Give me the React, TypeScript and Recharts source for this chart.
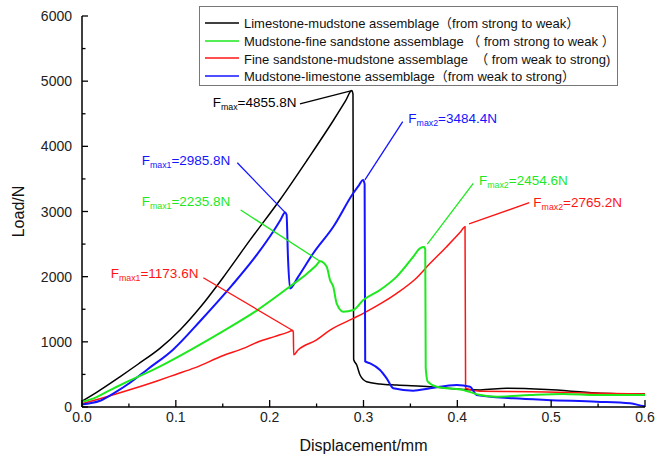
import React from 'react';
import { LineChart, Line, XAxis, YAxis, Legend, ReferenceLine, ReferenceDot } from 'recharts';

const FONT = "'Liberation Sans', Arial, 'Noto Sans CJK SC', sans-serif";

const seriesNames = [
  'Limestone-mudstone assemblage（from strong to weak）',
  'Mudstone-fine sandstone assemblage （ from strong to weak ）',
  'Fine sandstone-mudstone assemblage  （ from weak to strong)',
  'Mudstone-limestone assemblage（from weak to strong）',
];
const seriesColors = ['#000000', '#1ee81e', '#ff1414', '#1414ff'];

const xTicks = [0, 0.05, 0.1, 0.15, 0.2, 0.25, 0.3, 0.35, 0.4, 0.45, 0.5, 0.55, 0.6];
const yTicks = [0, 500, 1000, 1500, 2000, 2500, 3000, 3500, 4000, 4500, 5000, 5500, 6000];

// Limestone-mudstone (black)
const blackX = [0, 0.016, 0.04, 0.06, 0.083, 0.105, 0.126, 0.15, 0.179, 0.211, 0.24, 0.268, 0.281, 0.2875, 0.2888, 0.2895, 0.2928, 0.2963, 0.3034, 0.3176, 0.3354, 0.371, 0.4064, 0.4242, 0.4526, 0.4953, 0.5485, 0.6];
const blackY = [90, 230, 460, 660, 900, 1190, 1530, 1980, 2560, 3180, 3790, 4400, 4700, 4856, 4800, 730, 644, 491, 388, 353, 337, 312, 268, 262, 287, 268, 215, 198];

// Mudstone-fine sandstone (green)
const greenX = [0, 0.01, 0.03, 0.05, 0.08, 0.1187, 0.15, 0.1862, 0.2217, 0.24, 0.25, 0.2537, 0.2608, 0.2643, 0.2678, 0.2714, 0.2785, 0.2892, 0.2998, 0.3176, 0.3354, 0.3531, 0.3602, 0.3648, 0.3658, 0.3663, 0.3685, 0.378, 0.4064, 0.4242, 0.442, 0.4775, 0.513, 0.5485, 0.6];
const greenY = [80, 120, 260, 400, 600, 900, 1160, 1480, 1850, 2050, 2180, 2236, 2153, 1950, 1846, 1591, 1463, 1488, 1642, 1795, 2000, 2307, 2435, 2455, 2420, 600, 389, 312, 261, 184, 158, 184, 200, 184, 184];

// Fine sandstone-mudstone (red)
const redX = [0, 0.02, 0.05, 0.08, 0.1, 0.12, 0.1506, 0.172, 0.1862, 0.205, 0.219, 0.2245, 0.2252, 0.2256, 0.23, 0.25, 0.2643, 0.2892, 0.2998, 0.32, 0.3354, 0.355, 0.371, 0.3886, 0.403, 0.4082, 0.4088, 0.4242, 0.4775, 0.5485, 0.6];
const redY = [50, 130, 260, 400, 500, 600, 790, 900, 990, 1080, 1145, 1174, 1150, 800, 870, 1030, 1180, 1360, 1437, 1600, 1744, 1960, 2205, 2460, 2680, 2765, 287, 240, 235, 210, 198];

// Mudstone-limestone (blue)
const blueX = [0, 0.01, 0.02, 0.035, 0.05, 0.07, 0.097, 0.126, 0.16, 0.186, 0.205, 0.2115, 0.2164, 0.218, 0.2195, 0.2217, 0.23, 0.2465, 0.268, 0.289, 0.2955, 0.2995, 0.3012, 0.3018, 0.3069, 0.3176, 0.3247, 0.3318, 0.353, 0.371, 0.3993, 0.4135, 0.4206, 0.4597, 0.4953, 0.5485, 0.584, 0.598, 0.6];
const blueY = [40, 60, 100, 220, 360, 580, 880, 1320, 1870, 2330, 2720, 2870, 2986, 2950, 2300, 1820, 1990, 2360, 2770, 3280, 3410, 3484, 3420, 700, 670, 568, 440, 287, 250, 287, 338, 312, 184, 133, 107, 82, 56, 15, 10];

const toPoints = (xs: number[], ys: number[]) => xs.map((x, i) => ({ x, y: ys[i] }));
const blackData = toPoints(blackX, blackY);
const greenData = toPoints(greenX, greenY);
const redData = toPoints(redX, redY);
const blueData = toPoints(blueX, blueY);

// Annotations: label anchors (text start, vertical centre) and leader lines, in data units
const annLabelX = [0.1393, 0.0636, 0.0636, 0.0306, 0.3478, 0.4231, 0.481];
const annLabelY = [4670, 3790, 3150, 2056, 4435, 3483, 3135];
const annSub = ['max', 'max1', 'max1', 'max1', 'max2', 'max2', 'max2'];
const annValue = ['=4855.8N', '=2985.8N', '=2235.8N', '=1173.6N', '=3484.4N', '=2454.6N', '=2765.2N'];
const annColor = ['#000000', '#1414ff', '#1ee81e', '#ff1414', '#1414ff', '#1ee81e', '#ff1414'];
const leadFromX = [0.2323, 0.1655, 0.1691, 0.1293, 0.3418, 0.417, 0.4767];
const leadFromY = [4650, 3749, 3023, 1984, 4378, 3433, 3135];
const leadToX = [0.2875, 0.2164, 0.2537, 0.2245, 0.3015, 0.368, 0.4125];
const leadToY = [4856, 2986, 2236, 1174, 3484, 2500, 2810];

const YTick = (props: any) => {
  const { x, y, payload } = props;
  const v = payload.value;
  const major = v % 1000 === 0;
  return (
    <g>
      <line x1={x} x2={x + (major ? 6 : 3.5)} y1={y} y2={y} stroke="#000" strokeWidth={1.3} />
      {major && (
        <text x={x - 10} y={y + 5} textAnchor="end" fontSize={14} fontFamily={FONT} fill="#222">
          {v}
        </text>
      )}
    </g>
  );
};

const XTick = (props: any) => {
  const { x, y, payload } = props;
  const v = payload.value;
  const major = Math.abs(v * 10 - Math.round(v * 10)) < 1e-6;
  return (
    <g>
      <line x1={x} x2={x} y1={y} y2={y - (major ? 7 : 3.5)} stroke="#000" strokeWidth={1.3} />
      {major && (
        <text x={x} y={y + 15} textAnchor="middle" fontSize={14} fontFamily={FONT} fill="#222">
          {v.toFixed(1)}
        </text>
      )}
    </g>
  );
};

const LegendBox = () => (
  <div
    style={{
      border: '1px solid #777',
      background: '#fff',
      width: 419,
      height: 80,
      boxSizing: 'border-box',
      padding: '7px 0 0 5px',
      fontFamily: FONT,
      fontSize: 13,
      color: '#111',
    }}
  >
    {seriesNames.map((name, i) => (
      <div key={i} style={{ display: 'flex', alignItems: 'center', height: 17.7, whiteSpace: 'pre' }}>
        <svg width={34} height={6} style={{ marginRight: 5 }}>
          <line x1={0} x2={34} y1={3} y2={3} stroke={seriesColors[i]} strokeWidth={1.6} />
        </svg>
        <span>{name}</span>
      </div>
    ))}
  </div>
);

const AnnText = (props: any) => {
  const { cx, cy, idx } = props;
  return (
    <text x={cx} y={cy + 4.7} fill={annColor[idx]} fontSize={13.5} fontFamily={FONT}>
      <tspan>F</tspan>
      <tspan fontSize={8.8} dy={3}>{annSub[idx]}</tspan>
      <tspan dy={-3}>{annValue[idx]}</tspan>
    </text>
  );
};

export default function App() {
  return (
    <div style={{ position: 'absolute', left: 0, top: 0, width: 657, height: 463, background: '#fff' }}>
      <LineChart width={657} height={463} margin={{ top: 16, right: 12, left: 22, bottom: 26 }}>
        <XAxis
          dataKey="x"
          type="number"
          domain={[0, 0.6]}
          ticks={xTicks}
          interval={0}
          tickSize={0}
          tickMargin={0}
          tickLine={false}
          tick={<XTick />}
          height={30}
          axisLine={{ stroke: '#000', strokeWidth: 1.5 }}
          label={{
            content: (p: any) => {
              const vb = p.viewBox;
              return (
                <text x={vb.x + vb.width / 2} y={vb.y + 44} textAnchor="middle" fontSize={16} fontFamily={FONT} fill="#111">
                  Displacement/mm
                </text>
              );
            },
          }}
        />
        <YAxis
          type="number"
          domain={[0, 6000]}
          ticks={yTicks}
          interval={0}
          tickSize={0}
          tickMargin={0}
          tickLine={false}
          tick={<YTick />}
          width={60}
          axisLine={{ stroke: '#000', strokeWidth: 1.5 }}
          label={{
            content: (p: any) => {
              const vb = p.viewBox;
              const cy = vb.y + vb.height / 2;
              return (
                <text x={18} y={cy} transform={`rotate(-90 18 ${cy})`} textAnchor="middle" dominantBaseline="central" fontSize={16} fontFamily={FONT} fill="#111">
                  Load/N
                </text>
              );
            },
          }}
        />
        <Legend
          layout="vertical"
          align="center"
          verticalAlign="middle"
          content={() => <LegendBox />}
          wrapperStyle={{ left: 199, top: 6, width: 419, height: 80 }}
        />
        <Line data={blackData} dataKey="y" stroke={seriesColors[0]} strokeWidth={1.5} dot={false} type="monotone" isAnimationActive={false} />
        <Line data={redData} dataKey="y" stroke={seriesColors[2]} strokeWidth={1.5} dot={false} type="monotone" isAnimationActive={false} />
        <Line data={blueData} dataKey="y" stroke={seriesColors[3]} strokeWidth={2} dot={false} type="monotone" isAnimationActive={false} />
        <Line data={greenData} dataKey="y" stroke={seriesColors[1]} strokeWidth={2} dot={false} type="monotone" isAnimationActive={false} />
        {leadFromX.map((fx, i) => (
          <ReferenceLine
            key={'l' + i}
            segment={[{ x: fx, y: leadFromY[i] }, { x: leadToX[i], y: leadToY[i] }]}
            stroke={annColor[i]}
            strokeWidth={1.3}
          />
        ))}
        {annLabelX.map((lx, i) => (
          <ReferenceDot key={'t' + i} x={lx} y={annLabelY[i]} r={0} shape={(p: any) => <AnnText {...p} idx={i} />} />
        ))}
      </LineChart>
    </div>
  );
}
